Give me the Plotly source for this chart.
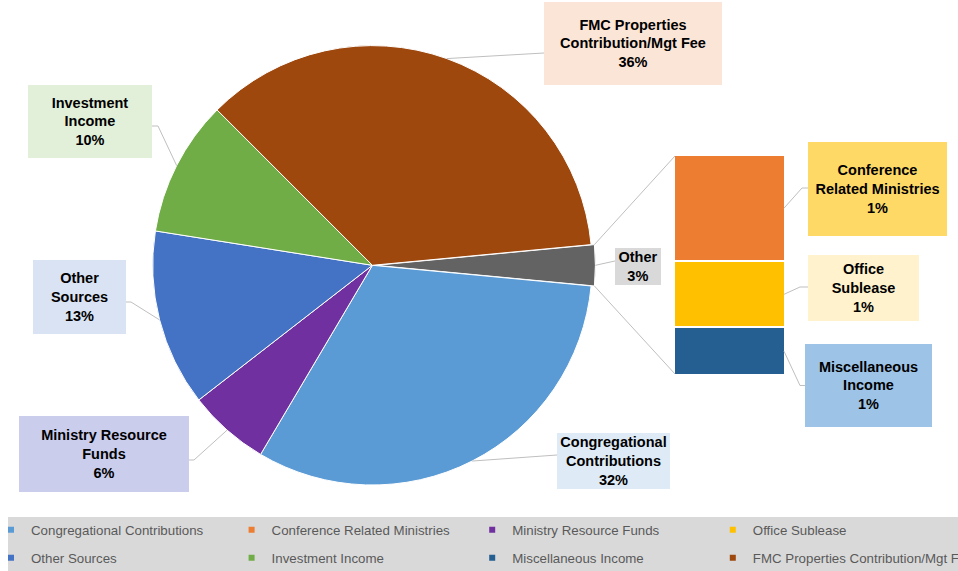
import math
import plotly.graph_objects as go

W, H = 958, 571

# ---------------- data ----------------
main_labels = ["Congregational Contributions", "Ministry Resource Funds", "Other Sources",
               "Investment Income", "FMC Properties Contribution/Mgt Fee"]
main_values = [32, 6, 13, 10, 36]
sub_labels = ["Conference Related Ministries", "Office Sublease", "Miscellaneous Income"]
sub_values = [1.45, 0.90, 0.65]
other_label = "Other"
legend_order = ["Congregational Contributions", "Conference Related Ministries",
                "Ministry Resource Funds", "Office Sublease",
                "Other Sources", "Investment Income",
                "Miscellaneous Income", "FMC Properties Contribution/Mgt Fee"]
wrapped_names = {
    "Congregational Contributions": "Congregational<br>Contributions",
    "Ministry Resource Funds": "Ministry Resource<br>Funds",
    "Other Sources": "Other<br>Sources",
    "Investment Income": "Investment<br>Income",
    "FMC Properties Contribution/Mgt Fee": "FMC Properties<br>Contribution/Mgt Fee",
    "Other": "Other",
    "Conference Related Ministries": "Conference<br>Related Ministries",
    "Office Sublease": "Office<br>Sublease",
    "Miscellaneous Income": "Miscellaneous<br>Income",
}

# ---------------- styles ----------------
colors = {
    "Congregational Contributions": "#5B9BD5",
    "Conference Related Ministries": "#ED7D31",
    "Ministry Resource Funds": "#7030A0",
    "Office Sublease": "#FFC000",
    "Other Sources": "#4472C4",
    "Investment Income": "#70AD47",
    "Miscellaneous Income": "#255E91",
    "FMC Properties Contribution/Mgt Fee": "#9E480E",
    "Other": "#636363",
}
# label boxes: centre x, centre y, width, height (px), fill, attach point, elbow point
boxes = {
    "FMC Properties Contribution/Mgt Fee": (633, 43.5, 178, 83, "#FBE5D6", (544, 53), None),
    "Investment Income": (90, 121.5, 124, 73, "#E2F0D9", (152, 126), (158, 126)),
    "Other Sources": (79.5, 297, 93, 74, "#DAE3F3", (126, 302), (131, 302)),
    "Ministry Resource Funds": (104, 454, 170, 76, "#CBCDEC", (189, 460), (194, 460)),
    "Congregational Contributions": (613.5, 460.5, 113, 56, "#DEEBF7", (557, 455), None),
    "Other": (638, 266, 46, 37, "#D9D9D9", (615, 261), None),
    "Conference Related Ministries": (877, 189, 139, 94, "#FFD966", (808, 188), (802, 188)),
    "Office Sublease": (863, 288, 111, 66, "#FFF2CC", (808, 287), (800, 287)),
    "Miscellaneous Income": (868, 385, 127, 83, "#9DC3E6", (805, 385.5), (800, 385.5)),
}
CX, CY, R = 372.4, 265.3, 219.7        # pie centre / radius (px)
PULL = 0.015
BAR_L, BAR_R, BAR_T, BAR_B = 674, 785, 155, 375
LINE_COL = "#BFBFBF"
FONT = "Liberation Sans, Arial, sans-serif"


def px(x):
    return x / W


def py(y):
    return 1 - y / H


pie_labels = [other_label] + main_labels
pie_values = [sum(sub_values)] + main_values
total = sum(pie_values)
rotation = 90 - 360 * pie_values[0] / total / 2   # "Other" centred at 3 o'clock


def pie_pt(frac, pull=0.0, mid=None):
    a = math.radians(rotation + 360 * frac)
    ox = oy = 0
    if mid is not None:
        m = math.radians(rotation + 360 * mid)
        ox, oy = pull * R * math.sin(m), -pull * R * math.cos(m)
    return CX + ox + R * math.sin(a), CY + oy - R * math.cos(a)


fig = go.Figure()

ext = R * (1 + PULL)
fig.add_trace(go.Pie(
    labels=pie_labels, values=pie_values, sort=False, direction="clockwise",
    rotation=rotation, textinfo="none", showlegend=False,
    pull=[PULL] + [0] * len(main_values),
    marker=dict(colors=[colors[l] for l in pie_labels], line=dict(color="white", width=1)),
    domain=dict(x=[px(CX - ext), px(CX + ext)], y=[py(CY + ext), py(CY - ext)]),
))

# stacked bar (bottom first)
for lab, val in reversed(list(zip(sub_labels, sub_values))):
    fig.add_trace(go.Bar(
        x=[0], y=[val], width=1, name=lab, showlegend=False,
        marker=dict(color=colors[lab], line=dict(color="white", width=2)),
    ))

# legend entries
for i, lab in enumerate(legend_order):
    fig.add_trace(go.Scatter(
        x=[None], y=[None], mode="markers", name=lab,
        marker=dict(symbol="square", size=6, color=colors[lab]),
        legend="legend" if i < 4 else "legend2", hoverinfo="skip",
    ))

shapes = [dict(type="rect", xref="paper", yref="paper", x0=px(8), x1=1.0,
               y0=0, y1=py(517), fillcolor="#D9D9D9", line=dict(width=0), layer="below")]


def path_shape(points):
    d = "M " + " L ".join(f"{px(x):.5f},{py(y):.5f}" for x, y in points)
    return dict(type="path", xref="paper", yref="paper", path=d,
                line=dict(color=LINE_COL, width=1), layer="above")


annotations = []


def add_label(name, value, start_pt):
    cx, cy, w, h, fill, attach, elbow = boxes[name]
    pts = [start_pt] + ([elbow] if elbow else []) + [attach]
    shapes.append(path_shape(pts))
    annotations.append(dict(
        x=px(cx), y=py(cy), xref="paper", yref="paper", showarrow=False,
        xanchor="center", yanchor="middle",
        text=f"<b>{wrapped_names[name]}<br>{round(value)}%</b>",
        width=w, height=h, bgcolor=fill, borderwidth=0, borderpad=0,
        align="center", valign="middle",
        font=dict(family=FONT, size=14.5, color="#000000"),
    ))


# pie slice labels
cum = 0
for lab, val in zip(pie_labels, pie_values):
    f0 = cum / total
    f1 = (cum + val) / total
    mid = (f0 + f1) / 2
    pull = PULL if lab == other_label else 0
    add_label(lab, val / total * 100, pie_pt(mid, pull, mid))
    cum += val

# connector lines pie -> bar
o_mid = pie_values[0] / total / 2
p_top = pie_pt(0, PULL, o_mid)
p_bot = pie_pt(pie_values[0] / total, PULL, o_mid)
shapes.append(path_shape([p_top, (BAR_L + 1, BAR_T + 1)]))
shapes.append(path_shape([p_bot, (BAR_L + 1, BAR_B - 1)]))

# bar labels
sub_total = sum(sub_values)
below = sub_total
for lab, val in zip(sub_labels, sub_values):
    below -= val
    frac_mid = (below + val / 2) / sub_total
    ypx = BAR_B - frac_mid * (BAR_B - BAR_T)
    add_label(lab, val / total * 100, (BAR_R - 1, ypx))

legend_common = dict(
    orientation="h", x=0, xanchor="left", yanchor="middle", traceorder="normal",
    entrywidth=204.6, entrywidthmode="pixels", bgcolor="rgba(0,0,0,0)", indentation=-9,
    font=dict(family=FONT, size=13.3, color="#595959"),
)

fig.update_layout(
    width=W, height=H, margin=dict(l=0, r=0, t=0, b=0, autoexpand=False),
    paper_bgcolor="white", plot_bgcolor="rgba(0,0,0,0)",
    barmode="stack", bargap=0,
    xaxis=dict(domain=[px(BAR_L), px(BAR_R)], range=[-0.5, 0.5], visible=False, fixedrange=True),
    yaxis=dict(domain=[py(BAR_B), py(BAR_T)], range=[0, sub_total], visible=False, fixedrange=True),
    legend=dict(y=py(530), **legend_common),
    legend2=dict(y=py(558), **legend_common),
    shapes=shapes, annotations=annotations,
)

fig.write_html("out.html", config={"displayModeBar": False},
               post_script="document.body.style.margin='0';")
